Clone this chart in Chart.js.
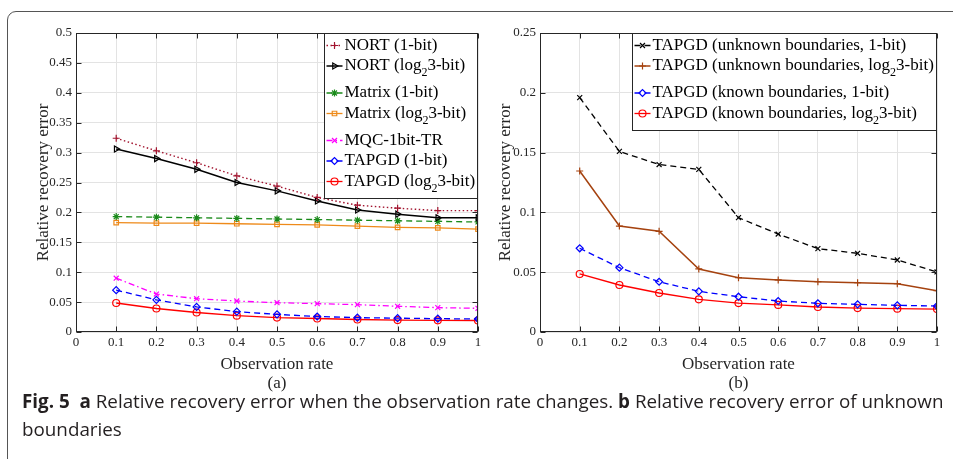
<!DOCTYPE html>
<html><head><meta charset="utf-8">
<script src="https://cdn.jsdelivr.net/npm/chart.js@4/dist/chart.umd.min.js"></script>
<style>
html,body{margin:0;padding:0;background:#fff;width:953px;height:459px;overflow:hidden;position:relative}
#frame{position:absolute;left:7px;top:11px;width:1000px;height:520px;border:1px solid #555;border-radius:9px;box-sizing:border-box}
#w1{position:absolute;left:0;top:0;width:500px;height:400px}
#w2{position:absolute;left:480px;top:0;width:473px;height:400px}
#cap{position:absolute;left:22px;top:387px;font-family:"Open Sans";font-size:18px;line-height:28px;color:#231f20;white-space:nowrap}
#cap b{font-weight:700}
</style></head>
<body>
<div id="frame"></div>
<div id="w1"><canvas id="c1" width="500" height="400"></canvas></div>
<div id="w2"><canvas id="c2" width="473" height="400"></canvas></div>
<div id="cap"><span id="l1"><b>Fig. 5</b>&nbsp; <b>a</b> Relative recovery error when the observation rate changes. <b>b</b> Relative recovery error of unknown</span><br>boundaries</div>
<script>
// ---- data ----
const obsRate = [0.1, 0.2, 0.3, 0.4, 0.5, 0.6, 0.7, 0.8, 0.9, 1.0];
const nort1bit   = [0.324, 0.303, 0.283, 0.261, 0.244, 0.225, 0.212, 0.207, 0.203, 0.203];
const nortLog    = [0.306, 0.290, 0.272, 0.250, 0.236, 0.219, 0.204, 0.197, 0.191, 0.191];
const matrix1bit = [0.193, 0.192, 0.191, 0.190, 0.189, 0.188, 0.187, 0.186, 0.185, 0.184];
const matrixLog  = [0.183, 0.182, 0.182, 0.181, 0.180, 0.179, 0.177, 0.175, 0.174, 0.172];
const mqc1bitTR  = [0.090, 0.0635, 0.0557, 0.0518, 0.049, 0.0474, 0.0457, 0.043, 0.0407, 0.0396];
const tapgd1bit  = [0.070, 0.0538, 0.042, 0.034, 0.0295, 0.0259, 0.024, 0.0231, 0.0223, 0.0217];
const tapgdLog   = [0.0485, 0.0393, 0.0326, 0.0273, 0.0242, 0.0226, 0.0209, 0.020, 0.0195, 0.0192];
const unknown1bit = [0.196, 0.151, 0.140, 0.136, 0.0956, 0.0819, 0.0697, 0.0658, 0.0602, 0.0502];
const unknownLog  = [0.1346, 0.0886, 0.0842, 0.0527, 0.0454, 0.0435, 0.0421, 0.0412, 0.0404, 0.0345];
const known1bit   = tapgd1bit;
const knownLog    = tapgdLog;
const labelsA = ['NORT (1-bit)', 'NORT (log₂3-bit)', 'Matrix (1-bit)', 'Matrix (log₂3-bit)', 'MQC-1bit-TR', 'TAPGD (1-bit)', 'TAPGD (log₂3-bit)'];
const labelsB = ['TAPGD (unknown boundaries, 1-bit)', 'TAPGD (unknown boundaries, log₂3-bit)', 'TAPGD (known boundaries, 1-bit)', 'TAPGD (known boundaries, log₂3-bit)'];
const yTitle = 'Relative recovery error';
const xTitle = 'Observation rate';

// ---- styling ----
const SERIF = '"Liberation Serif", "Times New Roman", serif';
const AX = '#262626';
const DOT = [1.5, 2.5], DASH = [6, 4], DASHDOT = [6, 3, 1.5, 3], SOLID = [];

function ds(label, data, color, style, dash, extra) {
  return Object.assign({
    label,
    data: obsRate.map((x, i) => ({x, y: data[i]})),
    borderColor: color, backgroundColor: 'rgba(0,0,0,0)',
    pointBorderColor: color, pointBackgroundColor: 'rgba(0,0,0,0)',
    pointStyle: style, pointRadius: 3.5, pointBorderWidth: 1.2, pointHoverRadius: 3.5,
    borderWidth: 1.3, borderDash: dash, tension: 0, fill: false
  }, extra || {});
}

function drawMarker(ctx, d, x, y) {
  ctx.save();
  ctx.setLineDash([]);
  ctx.strokeStyle = d.pointBorderColor;
  ctx.fillStyle = 'rgba(0,0,0,0)';
  ctx.lineWidth = d.pointBorderWidth;
  if (Chart.helpers && Chart.helpers.drawPoint) {
    Chart.helpers.drawPoint(ctx, {pointStyle: d.pointStyle, rotation: d.pointRotation || 0, radius: d.pointRadius, borderWidth: d.pointBorderWidth}, x, y);
  }
  ctx.restore();
}

function textW(ctx, label, font, subFont) {
  const i = label.indexOf('₂');
  ctx.font = font;
  if (i < 0) return ctx.measureText(label).width;
  let w = ctx.measureText(label.slice(0, i)).width + ctx.measureText(label.slice(i + 1)).width;
  ctx.font = subFont; w += ctx.measureText('2').width;
  return w;
}
function drawLabel(ctx, label, x, y, font, subFont) {
  const i = label.indexOf('₂');
  ctx.fillStyle = '#000'; ctx.textBaseline = 'middle'; ctx.textAlign = 'left';
  ctx.font = font;
  if (i < 0) { ctx.fillText(label, x, y); return; }
  const a = label.slice(0, i), b = label.slice(i + 1);
  ctx.fillText(a, x, y); x += ctx.measureText(a).width;
  ctx.font = subFont; ctx.fillText('2', x, y + 7); x += ctx.measureText('2').width;
  ctx.font = font; ctx.fillText(b, x, y);
}

const framePlugin = {
  id: 'matlabFrame',
  afterDraw(chart) {
    const ctx = chart.ctx, a = chart.chartArea;
    const xs = chart.scales.x, ys = chart.scales.y;
    ctx.save();
    ctx.strokeStyle = AX; ctx.lineWidth = 1; ctx.setLineDash([]);
    const L = Math.round(a.left) + 0.5, R = Math.round(a.right) - 0.5, T = Math.round(a.top) + 0.5, B = Math.round(a.bottom) - 0.5;
    ctx.strokeRect(L, T, R - L, B - T);
    ctx.beginPath();
    xs.ticks.forEach(t => {
      const px = Math.round(xs.getPixelForValue(t.value)) + 0.5;
      ctx.moveTo(px, B); ctx.lineTo(px, B - 5);
      ctx.moveTo(px, T); ctx.lineTo(px, T + 5);
    });
    ys.ticks.forEach(t => {
      const py = Math.round(ys.getPixelForValue(t.value)) + 0.5;
      ctx.moveTo(L, py); ctx.lineTo(L + 5, py);
      ctx.moveTo(R, py); ctx.lineTo(R - 5, py);
    });
    ctx.stroke();

    // legend inside the axes, top-right
    const font = '17px ' + SERIF, subFont = '12px ' + SERIF;
    const items = chart.data.datasets;
    const padL = 2, sample = 16, gap = 2, padR = 3;
    let maxW = 0;
    items.forEach(d => { maxW = Math.max(maxW, textW(ctx, d.label, font, subFont)); });
    const width = padL + sample + gap + maxW + padR;
    const right = Math.round(a.right) - 0.5, top = Math.round(a.top) + 0.5;
    const left = Math.round(right - width) + 0.5;
    const rows = [];
    let y = top + 12;
    items.forEach(d => { rows.push(y); y += d.label.includes('₂') ? 27 : 20.5; });
    const lastSub = items[items.length - 1].label.includes('₂');
    const bottom = Math.round(rows[rows.length - 1] + (lastSub ? 16 : 10)) + 0.5;
    ctx.fillStyle = '#fff';
    ctx.fillRect(left, top, right - left, bottom - top);
    ctx.strokeStyle = AX; ctx.lineWidth = 1;
    ctx.strokeRect(left, top, right - left, bottom - top);
    items.forEach((d, k) => {
      const ry = rows[k];
      const x0 = left + padL, x1 = x0 + sample;
      ctx.save();
      ctx.strokeStyle = d.borderColor; ctx.lineWidth = d.borderWidth;
      ctx.setLineDash(d.borderDash || []);
      ctx.beginPath(); ctx.moveTo(x0, ry); ctx.lineTo(x1, ry); ctx.stroke();
      ctx.restore();
      drawMarker(ctx, d, (x0 + x1) / 2, ry);
      drawLabel(ctx, d.label, x1 + gap, ry, font, subFont);
    });
    ctx.restore();
  }
};

function makeOptions(yMax, yStep, yWidth, rightPad, yTitlePad, sub) {
  return {
    responsive: false, animation: false, devicePixelRatio: 1,
    layout: {padding: {left: 0, top: 33, right: rightPad, bottom: 0}},
    plugins: {legend: {display: false}, tooltip: {enabled: false}, title: {display: false}},
    scales: {
      x: {
        type: 'linear', min: 0, max: 1,
        afterFit: s => { s.height = 68; },
        grid: {color: '#e3e3e3', lineWidth: 1, drawTicks: false},
        border: {display: false},
        ticks: {stepSize: 0.1, autoSkip: false, maxRotation: 0, padding: 3,
          color: AX, font: {family: SERIF, size: 13},
          callback: v => String(Math.round(v * 10) / 10)},
        title: {display: true, text: [xTitle, sub], color: AX,
          font: {family: SERIF, size: 17, lineHeight: 1.1}, padding: {top: 0, bottom: 7.6}}
      },
      y: {
        min: 0, max: yMax,
        afterFit: s => { s.width = yWidth; },
        grid: {color: '#e3e3e3', lineWidth: 1, drawTicks: false},
        border: {display: false},
        ticks: {stepSize: yStep, padding: 4, color: AX, font: {family: SERIF, size: 13},
          callback: v => String(Math.round(v * 100) / 100)},
        title: {display: true, text: yTitle, color: AX,
          font: {family: SERIF, size: 17, lineHeight: 1.2}, padding: {top: yTitlePad, bottom: 0}}
      }
    }
  };
}

new Chart(document.getElementById('c1'), {
  type: 'line',
  data: {datasets: [
    ds(labelsA[0], nort1bit, '#A2142F', 'cross', DOT, {borderWidth: 1.4}),
    ds(labelsA[1], nortLog, '#000000', 'triangle', SOLID, {pointRotation: 90, borderWidth: 1.5}),
    ds(labelsA[2], matrix1bit, '#1A8A1A', 'star', DASH),
    ds(labelsA[3], matrixLog, '#EE8A1A', 'rect', SOLID, {pointRadius: 3.2}),
    ds(labelsA[4], mqc1bitTR, '#FF00FF', 'crossRot', DASHDOT),
    ds(labelsA[5], tapgd1bit, '#0000FF', 'rectRot', DASH),
    ds(labelsA[6], tapgdLog, '#FF0000', 'circle', SOLID)
  ]},
  options: makeOptions(0.5, 0.05, 76, 22, 33, '(a)'),
  plugins: [framePlugin]
});

new Chart(document.getElementById('c2'), {
  type: 'line',
  data: {datasets: [
    ds(labelsB[0], unknown1bit, '#000000', 'crossRot', DASH),
    ds(labelsB[1], unknownLog, '#A5420F', 'cross', SOLID, {borderWidth: 1.5}),
    ds(labelsB[2], known1bit, '#0000FF', 'rectRot', DASH),
    ds(labelsB[3], knownLog, '#FF0000', 'circle', SOLID)
  ]},
  options: makeOptions(0.25, 0.05, 60, 16, 15, '(b)'),
  plugins: [framePlugin]
});

// fit the caption's first line to the reference width
(function () {
  const l1 = document.getElementById('l1');
  const cap = document.getElementById('cap');
  const target = 922;
  const w = l1.getBoundingClientRect().width;
  if (w > 0) {
    const fs = 18 * target / w;
    cap.style.fontSize = Math.max(16, Math.min(20, fs)).toFixed(2) + 'px';
  }
})();
</script>
</body></html>
